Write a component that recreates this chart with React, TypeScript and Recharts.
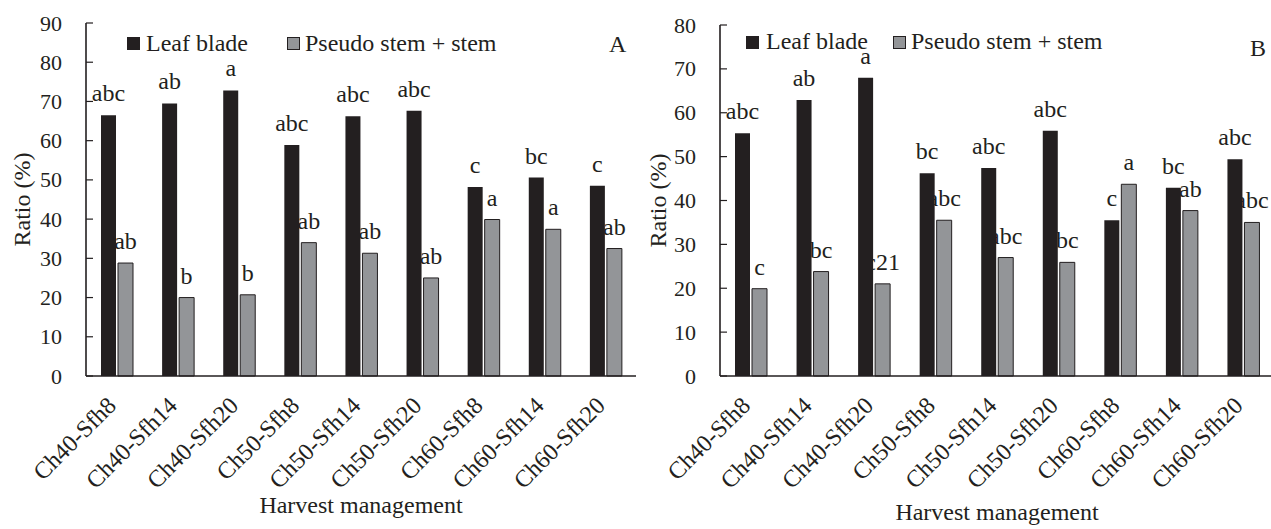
import React from 'react';
import { BarChart, Bar, XAxis, YAxis, LabelList, Legend } from 'recharts';

const categories = ['Ch40-Sfh8', 'Ch40-Sfh14', 'Ch40-Sfh20', 'Ch50-Sfh8', 'Ch50-Sfh14', 'Ch50-Sfh20', 'Ch60-Sfh8', 'Ch60-Sfh14', 'Ch60-Sfh20'];
const seriesNames = ['Leaf blade', 'Pseudo stem + stem'];

const leafA = [66.5, 69.5, 72.8, 58.9, 66.2, 67.6, 48.2, 50.6, 48.5];
const stemA = [28.8, 20.0, 20.7, 34.0, 31.3, 25.0, 39.9, 37.4, 32.5];
const leafLettersA = ['abc', 'ab', 'a', 'abc', 'abc', 'abc', 'c', 'bc', 'c'];
const stemLettersA = ['ab', 'b', 'b', 'ab', 'ab', 'ab', 'a', 'a', 'ab'];
const ticksA = [0, 10, 20, 30, 40, 50, 60, 70, 80, 90];

const leafB = [55.3, 62.9, 68.0, 46.2, 47.4, 55.9, 35.5, 42.9, 49.4];
const stemB = [19.9, 23.8, 21.0, 35.5, 27.0, 25.9, 43.7, 37.7, 35.0];
const leafLettersB = ['abc', 'ab', 'a', 'bc', 'abc', 'abc', 'c', 'bc', 'abc'];
const stemLettersB = ['c', 'bc', 'c21', 'abc', 'abc', 'bc', 'a', 'ab', 'abc'];
const ticksB = [0, 10, 20, 30, 40, 50, 60, 70, 80];

const yTitle = 'Ratio (%)';
const xTitle = 'Harvest management';

const FONT = '"Liberation Serif", "Times New Roman", serif';
const INK = '#231f20';
const GRAY = '#939598';

function buildRows(leaf: number[], stem: number[], leafL: string[], stemL: string[]) {
  return categories.map((name, i) => ({ name, leaf: leaf[i], stem: stem[i], leafL: leafL[i], stemL: stemL[i] }));
}

const YTick = (props: any) => {
  const { x, y, payload } = props;
  return (
    <g>
      <line x1={x} y1={y} x2={x + 7} y2={y} stroke={INK} strokeWidth={1.2} />
      <text x={x - 24} y={y} textAnchor="end" dominantBaseline="central" fontSize={22} fontFamily={FONT} fill={INK}>
        {payload.value}
      </text>
    </g>
  );
};

const XTick = (props: any) => {
  const { x, y, payload } = props;
  return (
    <g transform={`translate(${x - 5},${y + 25}) rotate(-45)`}>
      <text x={0} y={0} textAnchor="end" dy="0.35em" fontSize={24} fontFamily={FONT} fill={INK}>
        {payload.value}
      </text>
    </g>
  );
};

type LegendLayout = {
  sq: number[];
  tx: number[];
  sqTop: number;
  txTop: number;
  letter: string;
  letterX: number;
  letterTop: number;
};

const makeLegend = (lay: LegendLayout) => (props: any) => {
  const payload = props.payload || [];
  return (
    <div style={{ position: 'relative', width: 640, height: 60, fontFamily: FONT, fontSize: 24, color: INK }}>
      {payload.map((p: any, i: number) => (
        <React.Fragment key={i}>
          <div
            style={{
              position: 'absolute',
              left: lay.sq[i],
              top: lay.sqTop,
              width: 13,
              height: 13,
              background: i === 0 ? INK : GRAY,
              border: `1px solid ${INK}`,
              boxSizing: 'border-box',
            }}
          />
          <span style={{ position: 'absolute', left: lay.tx[i], top: lay.txTop, lineHeight: '24px', whiteSpace: 'nowrap' }}>{p.value}</span>
        </React.Fragment>
      ))}
      <span style={{ position: 'absolute', left: lay.letterX, top: lay.letterTop, lineHeight: '24px' }}>{lay.letter}</span>
    </div>
  );
};

type PanelProps = {
  rows: any[];
  ticks: number[];
  max: number;
  yAxisWidth: number;
  top: number;
  right: number;
  yTitleX: number;
  xTitleBase: number;
  legend: LegendLayout;
};

const Panel = ({ rows, ticks, max, yAxisWidth, top, right, yTitleX, xTitleBase, legend }: PanelProps) => {
  const height = 529;
  const xAxisHeight = 153;
  const plotMidY = top + (height - xAxisHeight - top) / 2;
  return (
    <BarChart
      width={640}
      height={height}
      data={rows}
      margin={{ top, right, left: 0, bottom: 0 }}
      barSize={15}
      barGap={2}
    >
      <XAxis
        dataKey="name"
        interval={0}
        height={xAxisHeight}
        tickSize={0}
        tickMargin={0}
        tickLine={false}
        tick={<XTick />}
        axisLine={{ stroke: INK, strokeWidth: 1.6 }}
        label={{
          content: (p: any) => {
            const vb = p.viewBox || {};
            return (
              <text x={vb.x + vb.width / 2} y={xTitleBase} textAnchor="middle" fontSize={24} fontFamily={FONT} fill={INK}>
                {xTitle}
              </text>
            );
          },
        }}
      />
      <XAxis xAxisId="top" dataKey="name" orientation="top" height={0} tick={false} tickLine={false} axisLine={{ stroke: INK, strokeWidth: 1.2 }} />
      <YAxis
        domain={[0, max]}
        ticks={ticks}
        interval={0}
        width={yAxisWidth}
        tickSize={0}
        tickMargin={0}
        tickLine={false}
        tick={<YTick />}
        axisLine={{ stroke: INK, strokeWidth: 1.6 }}
        label={{
          content: () => (
            <text
              x={yTitleX}
              y={plotMidY}
              transform={`rotate(-90 ${yTitleX} ${plotMidY})`}
              textAnchor="middle"
              dominantBaseline="central"
              fontSize={24}
              fontFamily={FONT}
              fill={INK}
            >
              {yTitle}
            </text>
          ),
        }}
      />
      <YAxis yAxisId="r" orientation="right" domain={[0, max]} width={0} tick={false} tickLine={false} axisLine={{ stroke: INK, strokeWidth: 1.2 }} />
      <Legend
        verticalAlign="middle"
        align="center"
        wrapperStyle={{ left: 0, top: 0, width: 640, height: 60 }}
        content={makeLegend(legend)}
      />
      <Bar dataKey="leaf" name={seriesNames[0]} fill={INK} isAnimationActive={false}>
        <LabelList dataKey="leafL" position="top" offset={14} fontSize={24} fontFamily={FONT} fill={INK} />
      </Bar>
      <Bar dataKey="stem" name={seriesNames[1]} fill={GRAY} stroke={INK} strokeWidth={1} isAnimationActive={false}>
        <LabelList dataKey="stemL" position="top" offset={14} fontSize={24} fontFamily={FONT} fill={INK} />
      </Bar>
    </BarChart>
  );
};

const rowsA = buildRows(leafA, stemA, leafLettersA, stemLettersA);
const rowsB = buildRows(leafB, stemB, leafLettersB, stemLettersB);

export default function App() {
  return (
    <div style={{ position: 'absolute', left: 0, top: 0, width: 1271, height: 529, overflow: 'hidden', background: '#fff' }}>
      <div style={{ position: 'absolute', left: 0, top: 0, width: 640, height: 529 }}>
        <Panel
          rows={rowsA}
          ticks={ticksA}
          max={90}
          yAxisWidth={86}
          top={23}
          right={4}
          yTitleX={22}
          xTitleBase={513}
          legend={{ sq: [127, 287], tx: [146, 305], sqTop: 37, txTop: 31, letter: 'A', letterX: 609, letterTop: 32 }}
        />
      </div>
      <div style={{ position: 'absolute', left: 640, top: 0, width: 640, height: 529 }}>
        <Panel
          rows={rowsB}
          ticks={ticksB}
          max={80}
          yAxisWidth={80}
          top={25}
          right={6}
          yTitleX={18}
          xTitleBase={520}
          legend={{ sq: [106, 253], tx: [126, 271], sqTop: 36, txTop: 29, letter: 'B', letterX: 610, letterTop: 36 }}
        />
      </div>
    </div>
  );
}
